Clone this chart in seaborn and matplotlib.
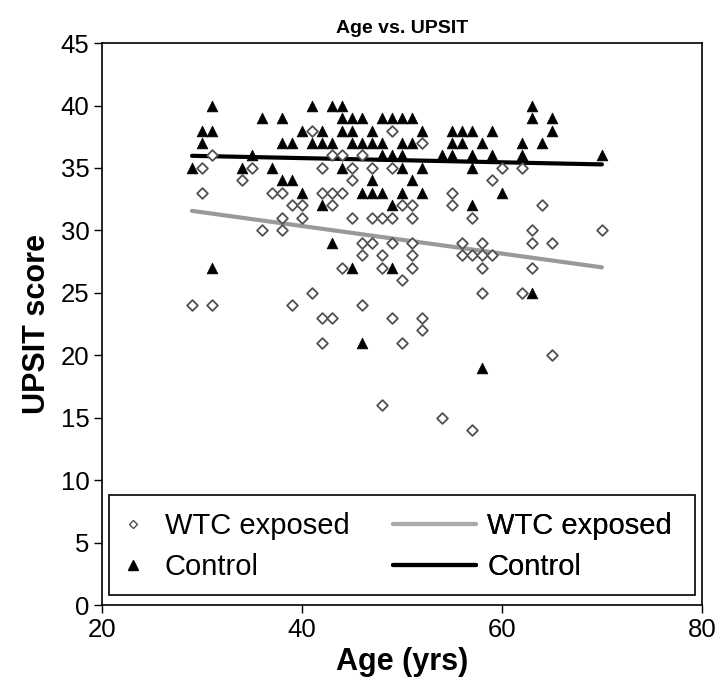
import numpy as np
import pandas as pd
import matplotlib
matplotlib.use("Agg")
import matplotlib.pyplot as plt
from matplotlib.lines import Line2D
from matplotlib.patches import Rectangle
import seaborn as sns

# ---- data ----
control_age = [31, 36, 38, 41, 43, 44, 30, 31, 40, 42, 30, 38, 39, 41, 42, 43, 35, 29, 34, 37,
               38, 39, 40, 42, 43, 31, 44, 45, 46, 48, 49, 50, 51, 44, 45, 47, 52, 55, 56, 57,
               59, 45, 46, 47, 48, 50, 51, 55, 56, 58, 62, 48, 49, 50, 54, 55, 57, 59, 62, 44,
               50, 52, 57, 47, 51, 46, 47, 48, 50, 52, 60, 49, 57, 45, 49, 46, 58, 63, 63, 63,
               65, 65, 64, 70]
control_score = [40, 39, 39, 40, 40, 40, 38, 38, 38, 38, 37, 37, 37, 37, 37, 37, 36, 35, 35, 35,
                 34, 34, 33, 32, 29, 27, 39, 39, 39, 39, 39, 39, 39, 38, 38, 38, 38, 38, 38, 38,
                 38, 37, 37, 37, 37, 37, 37, 37, 37, 37, 37, 36, 36, 36, 36, 36, 36, 36, 36, 35,
                 35, 35, 35, 34, 34, 33, 33, 33, 33, 33, 33, 32, 32, 27, 27, 21, 19, 25, 40, 39,
                 39, 38, 37, 36]

wtc_age = [31, 30, 35, 42, 34, 30, 37, 38, 42, 43, 39, 40, 43, 40, 38, 36, 38, 41, 43, 29,
           31, 39, 41, 42, 43, 42, 49, 52, 44, 46, 45, 47, 49, 60, 62, 45, 59, 44, 55, 50,
           51, 55, 45, 47, 48, 49, 51, 57, 46, 47, 49, 51, 56, 58, 46, 48, 51, 56, 57, 58,
           59, 44, 48, 51, 58, 63, 50, 58, 62, 46, 49, 52, 52, 50, 48, 54, 57, 65, 64, 63,
           70, 63, 65]
wtc_score = [36, 35, 35, 35, 34, 33, 33, 33, 33, 33, 32, 32, 32, 31, 31, 30, 30, 38, 36, 24,
             24, 24, 25, 23, 23, 21, 38, 37, 36, 36, 35, 35, 35, 35, 35, 34, 34, 33, 33, 32,
             32, 32, 31, 31, 31, 31, 31, 31, 29, 29, 29, 29, 29, 29, 28, 28, 28, 28, 28, 28,
             28, 27, 27, 27, 27, 27, 26, 25, 25, 24, 23, 23, 22, 21, 16, 15, 14, 20, 32, 30,
             30, 29, 29]

group_names = ["WTC exposed", "Control"]
x_ticks = [20, 40, 60, 80]
y_ticks = [0, 5, 10, 15, 20, 25, 30, 35, 40, 45]

df_c = pd.DataFrame({"age": control_age, "score": control_score})
df_w = pd.DataFrame({"age": wtc_age, "score": wtc_score})

sns.set_theme(style="white")
plt.rcParams["font.family"] = ["Liberation Sans", "DejaVu Sans"]
plt.rcParams["text.color"] = "black"
plt.rcParams["axes.labelcolor"] = "black"
plt.rcParams["xtick.color"] = "black"
plt.rcParams["ytick.color"] = "black"

fig = plt.figure(figsize=(7.21, 6.92), dpi=100)
ax = fig.add_axes([0.1415, 0.1257, 0.832, 0.812])

sns.scatterplot(data=df_w, x="age", y="score", ax=ax, marker="D", s=30,
                facecolor="white", edgecolor="#505050", linewidth=1.3, zorder=3)
sns.scatterplot(data=df_c, x="age", y="score", ax=ax, marker="^", s=60,
                color="black", edgecolor="black", linewidth=0.5, zorder=4)
sns.regplot(data=df_w, x="age", y="score", ax=ax, scatter=False, ci=None,
            truncate=True, line_kws=dict(color="#999999", lw=3, zorder=2))
sns.regplot(data=df_c, x="age", y="score", ax=ax, scatter=False, ci=None,
            truncate=True, line_kws=dict(color="black", lw=3, zorder=2))

ax.set_xlim(20, 80)
ax.set_ylim(0, 45)
ax.set_xticks(x_ticks)
ax.set_yticks(y_ticks)
ax.tick_params(axis="both", labelsize=18.5, direction="out", length=6, width=1,
               bottom=True, left=True, colors="black", labelcolor="black", pad=3)
for sp in ax.spines.values():
    sp.set_color("black")
    sp.set_linewidth(1.2)
ax.set_xlabel("Age (yrs)", fontsize=22, fontweight="bold", labelpad=4, color="black")
ax.set_ylabel("UPSIT score", fontsize=22, fontweight="bold", labelpad=6, color="black")
ax.set_title("Age vs. UPSIT", fontsize=14, fontweight="bold", pad=7, color="black")

# ---- legend: two columns of entries inside one frame ----
fs = 21
mk_handles = [
    Line2D([], [], ls="none", marker="D", ms=4.5, mfc="white", mec="#505050", mew=1),
    Line2D([], [], ls="none", marker="^", ms=6.5, mfc="black", mec="black"),
]
ln_handles = [
    Line2D([], [], color="#aaaaaa", lw=3),
    Line2D([], [], color="black", lw=3),
]
common = dict(loc="center left", fontsize=fs, frameon=False, borderpad=0,
              borderaxespad=0, labelspacing=0.46, labelcolor="black")
leg1 = ax.legend(mk_handles, group_names, bbox_to_anchor=(0.027, 0.104),
                 handlelength=1.0, handletextpad=0.6, **common)
ax.add_artist(leg1)
leg2 = ax.legend(ln_handles, group_names, bbox_to_anchor=(0.485, 0.104),
                 handlelength=2.84, handletextpad=0.39, **common)
ax.add_artist(leg2)
ax.add_patch(Rectangle((0.0117, 0.018), 0.976, 0.178, transform=ax.transAxes,
                       facecolor="white", edgecolor="black", lw=1.2, zorder=5))
leg1.set_zorder(6)
leg2.set_zorder(6)

fig.savefig("out.png", dpi=100, facecolor="white")
